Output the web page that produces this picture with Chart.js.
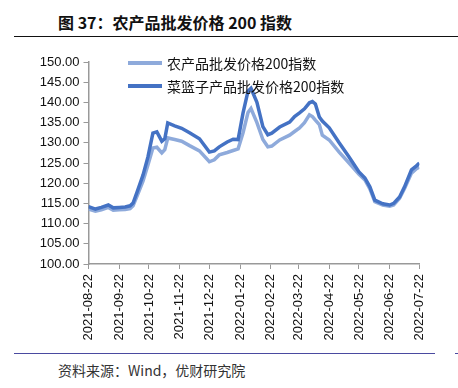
<!DOCTYPE html>
<html lang="zh-CN">
<head>
<meta charset="UTF-8">
<title>农产品批发价格200指数</title>
<script src="https://cdn.jsdelivr.net/npm/chart.js"></script>
<style>
    body {
        margin: 0;
        width: 458px;
        height: 388px;
        background: #ffffff;
        position: relative;
        overflow: hidden;
        font-family: 'Noto Sans CJK SC', 'Liberation Sans', sans-serif;
    }
    #title {
        position: absolute;
        left: 58px;
        top: 10px;
        font-size: 16px;
        font-weight: 700;
        color: #111;
    }
    #top-rule {
        position: absolute;
        left: 14px;
        top: 36px;
        width: 444px;
        height: 0;
        border-top: 1.5px solid #111;
    }
    #chart-box {
        position: absolute;
        left: 0;
        top: 50px;
        width: 440px;
        height: 300px;
    }
    .legend-item {
        position: absolute;
        left: 128px;
        font-size: 14px;
        color: #111;
        display: flex;
        align-items: center;
        height: 20px;
    }
    .legend-item span.swatch {
        display: inline-block;
        width: 34px;
        height: 4px;
        margin-right: 5px;
    }
    #bottom-rule {
        position: absolute;
        left: 14px;
        top: 353px;
        width: 421px;
        border-top: 1px solid #4a4aa0;
    }
    #bottom-rule2 {
        position: absolute;
        left: 455px;
        top: 353px;
        width: 3px;
        border-top: 1px solid #4a4aa0;
    }
    #source {
        position: absolute;
        left: 58px;
        top: 360px;
        font-size: 14px;
        color: #333;
    }
</style>
</head>
<body>
    <div id="title">图 37：农产品批发价格 200 指数</div>
    <div id="top-rule"></div>
    <div id="chart-box"><canvas id="myChart" width="440" height="300"></canvas></div>
    <div class="legend-item" style="top:53px;"><span class="swatch" style="background:#8eaadb"></span>农产品批发价格200指数</div>
    <div class="legend-item" style="top:76px;"><span class="swatch" style="background:#4472c4"></span>菜篮子产品批发价格200指数</div>
    <div id="bottom-rule"></div>
    <div id="bottom-rule2"></div>
    <div id="source">资料来源：Wind，优财研究院</div>

<script>
    // days since 2021-08-22
    var days = [0, 7, 13, 20, 25, 31, 37, 42, 45, 49, 55, 60, 65, 69, 74, 77, 80, 87, 94, 102,
        112, 122, 127, 132, 140, 146, 151, 156, 161, 164, 170, 176, 181, 185, 193, 203, 208, 213,
        218, 223, 226, 229, 233, 236, 243, 253, 263, 273, 279, 284, 289, 297, 304, 308, 314, 319,
        326, 331, 334];

    // 菜篮子产品批发价格200指数
    var basketValues = [114.2, 113.6, 114.0, 114.6, 113.9, 114.0, 114.1, 114.4, 115.1, 117.8,
        122.0, 126.5, 132.4, 132.7, 130.4, 131.0, 134.9, 134.2, 133.6, 132.5, 131.0, 127.7, 128.0,
        129.0, 130.2, 130.9, 130.8, 137.4, 142.8, 143.5, 140.0, 134.0, 132.0, 132.4, 133.9, 135.1,
        136.5, 137.4, 138.4, 139.9, 140.2, 139.6, 136.4, 135.4, 133.7, 130.0, 126.5, 122.8, 121.3,
        119.1, 115.8, 114.9, 114.6, 115.0, 116.6, 119.1, 123.3, 124.3, 125.0];

    // 农产品批发价格200指数
    var agriValues = [113.6, 113.1, 113.4, 114.0, 113.3, 113.4, 113.5, 113.7, 114.4, 116.8,
        120.5, 124.5, 128.7, 128.9, 127.5, 128.3, 131.2, 130.8, 130.4, 129.3, 128.0, 125.3, 125.8,
        127.0, 127.6, 128.1, 128.5, 132.5, 137.5, 138.5, 135.0, 130.8, 129.0, 129.2, 130.7, 131.9,
        132.8, 133.7, 135.0, 136.9, 136.5, 135.6, 134.5, 131.9, 130.7, 127.7, 125.0, 122.2, 120.8,
        118.6, 115.4, 114.6, 114.3, 114.6, 116.3, 118.7, 122.5, 123.6, 124.0];

    var tickDays = [0, 31, 61, 92, 122, 153, 184, 212, 243, 273, 304, 334];
    var tickLabels = ['2021-08-22', '2021-09-22', '2021-10-22', '2021-11-22', '2021-12-22',
        '2022-01-22', '2022-02-22', '2022-03-22', '2022-04-22', '2022-05-22', '2022-06-22',
        '2022-07-22'];

    function points(vals) {
        return days.map(function (d, i) { return { x: d, y: vals[i] }; });
    }

    var ctx = document.getElementById('myChart').getContext('2d');
    var myChart = new Chart(ctx, {
        type: 'line',
        data: {
            datasets: [{
                label: '农产品批发价格200指数',
                data: points(agriValues),
                borderColor: '#8eaadb',
                borderWidth: 3.5,
                pointRadius: 0,
                tension: 0,
                order: 1
            }, {
                label: '菜篮子产品批发价格200指数',
                data: points(basketValues),
                borderColor: '#4472c4',
                borderWidth: 3.5,
                pointRadius: 0,
                tension: 0,
                order: 0
            }]
        },
        options: {
            responsive: false,
            animation: false,
            layout: { padding: { top: 12, right: 20, left: 0, bottom: 0 } },
            plugins: { legend: { display: false }, tooltip: { enabled: false } },
            scales: {
                x: {
                    type: 'linear',
                    min: 0,
                    max: 334,
                    afterBuildTicks: function (scale) {
                        scale.ticks = tickDays.map(function (v) { return { value: v }; });
                    },
                    afterFit: function (scale) { scale.height = 86; },
                    grid: { drawOnChartArea: false, drawTicks: true, tickLength: 5, color: '#999' },
                    border: { color: '#999', width: 1.5 },
                    ticks: {
                        autoSkip: false,
                        minRotation: 90,
                        maxRotation: 90,
                        padding: 5,
                        color: '#111',
                        font: { family: 'Liberation Sans', size: 13 },
                        callback: function (value) {
                            return tickLabels[tickDays.indexOf(value)];
                        }
                    }
                },
                y: {
                    min: 100,
                    max: 150,
                    afterFit: function (scale) { scale.width = 88.5; },
                    grid: { drawOnChartArea: false, drawTicks: true, tickLength: 5, color: '#999' },
                    border: { color: '#999', width: 1.5 },
                    ticks: {
                        stepSize: 5,
                        padding: 4,
                        color: '#111',
                        font: { family: 'Liberation Sans', size: 13 },
                        callback: function (value) { return value.toFixed(2); }
                    }
                }
            }
        }
    });
</script>
</body>
</html>
